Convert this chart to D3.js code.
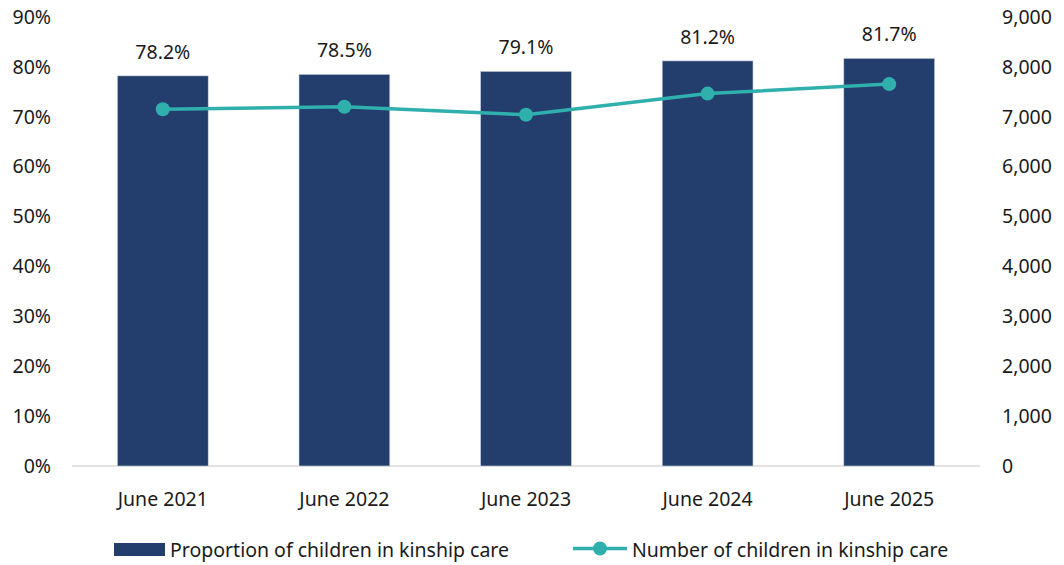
<!DOCTYPE html>
<html><head><meta charset="utf-8">
<script src="https://cdn.jsdelivr.net/npm/d3@7"></script>
<style>body{margin:0;background:#fff}svg{display:block}text{font-family:"Noto Sans",sans-serif;fill:#1a1a1a}</style>
</head><body>
<svg id="c" width="1064" height="565"></svg>
<script>
const categories = ["June 2021","June 2022","June 2023","June 2024","June 2025"];
const proportion = [78.2,78.5,79.1,81.2,81.7];
const proportionLabels = ["78.2%","78.5%","79.1%","81.2%","81.7%"];
const numberKinship = [7150,7200,7040,7465,7655];
const leftTicks = [0,10,20,30,40,50,60,70,80,90];
const rightTicks = [0,1000,2000,3000,4000,5000,6000,7000,8000,9000];
const seriesNames = ["Proportion of children in kinship care","Number of children in kinship care"];

const svg = d3.select("#c");
const m = {l:72, r:84, t:17, b:99};
const W = 1064, H = 565;
const FS = 19.5;
const x = d3.scaleBand().domain(categories).range([m.l, W-m.r]).paddingInner(0.5).paddingOuter(0.25);
const yL = d3.scaleLinear().domain([0,90]).range([H-m.b, m.t]);
const yR = d3.scaleLinear().domain([0,9000]).range([H-m.b, m.t]);
const barCol = "#233e6d", lineCol = "#2fb0ad";

// baseline
svg.append("line").attr("x1",m.l).attr("x2",W-m.r).attr("y1",yL(0)).attr("y2",yL(0)).attr("stroke","#d9d9d9").attr("stroke-width",1.5);

// bars
svg.selectAll("rect.bar").data(proportion).join("rect").attr("class","bar")
  .attr("x",(d,i)=>x(categories[i])).attr("width",x.bandwidth())
  .attr("y",d=>yL(d)).attr("height",d=>yL(0)-yL(d)).attr("fill",barCol)
  .attr("stroke","#c9cfdd").attr("stroke-width",0.6);

// bar labels
svg.selectAll("text.bl").data(proportion).join("text").attr("class","bl")
  .attr("x",(d,i)=>x(categories[i])+x.bandwidth()/2).attr("y",d=>yL(d)-17)
  .attr("text-anchor","middle").attr("font-size",FS).text((d,i)=>proportionLabels[i]);

// line
const line = d3.line().x((d,i)=>x(categories[i])+x.bandwidth()/2).y(d=>yR(d));
svg.append("path").datum(numberKinship).attr("d",line).attr("fill","none").attr("stroke",lineCol).attr("stroke-width",3.5).attr("stroke-linejoin","round");
svg.selectAll("circle.pt").data(numberKinship).join("circle").attr("class","pt")
  .attr("cx",(d,i)=>x(categories[i])+x.bandwidth()/2).attr("cy",d=>yR(d)).attr("r",7).attr("fill",lineCol);

// left axis
const axL = d3.axisLeft(yL).tickValues(leftTicks).tickFormat(d=>d+"%").tickSize(0).tickPadding(0);
const gL = svg.append("g").attr("transform",`translate(${m.l-21},0)`).call(axL);
gL.select(".domain").remove();
gL.selectAll("text").attr("font-size",FS).attr("font-family","Noto Sans").attr("fill","#1a1a1a");

// right axis
const axR = d3.axisRight(yR).tickValues(rightTicks).tickFormat(d3.format(",")).tickSize(0).tickPadding(0);
const gR = svg.append("g").attr("transform",`translate(${W-m.r+22},0)`).call(axR);
gR.select(".domain").remove();
gR.selectAll("text").attr("font-size",FS).attr("font-family","Noto Sans").attr("fill","#1a1a1a");

// x axis
const axX = d3.axisBottom(x).tickSize(0).tickPadding(0);
const gX = svg.append("g").attr("transform",`translate(0,${yL(0)+40})`).call(axX);
gX.select(".domain").remove();
gX.selectAll("text").attr("font-size",FS).attr("font-family","Noto Sans").attr("fill","#1a1a1a").attr("dy","0");

// legend
const lg = svg.append("g");
lg.append("rect").attr("x",114).attr("y",543).attr("width",51).attr("height",13).attr("fill",barCol);
lg.append("text").attr("x",170).attr("y",557).attr("font-size",FS).text(seriesNames[0]);
lg.append("line").attr("x1",573).attr("x2",627).attr("y1",548.5).attr("y2",548.5).attr("stroke",lineCol).attr("stroke-width",3.5);
lg.append("circle").attr("cx",600).attr("cy",548.5).attr("r",7).attr("fill",lineCol);
lg.append("text").attr("x",632).attr("y",557).attr("font-size",FS).text(seriesNames[1]);
</script>
</body></html>
